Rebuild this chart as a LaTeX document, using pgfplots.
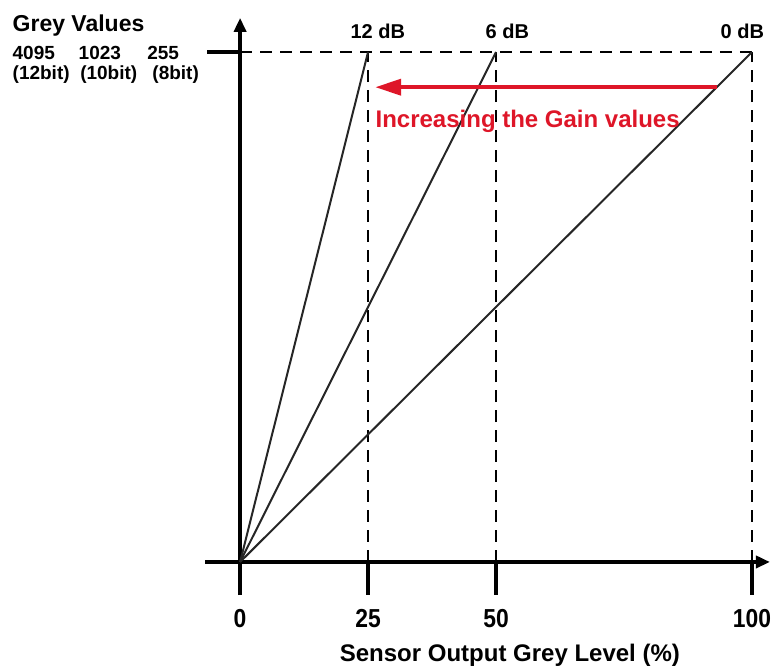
\documentclass[border=0pt]{standalone}
\usepackage{pgfplots}
\pgfplotsset{compat=1.18}
\usepackage{fontspec}
\setmainfont{Liberation Sans}
\newfontfamily\ticknarrow{Liberation Sans}[FakeStretch=0.88]
\usetikzlibrary{arrows.meta}
\definecolor{gainred}{RGB}{222,22,40}
\begin{document}
\begin{tikzpicture}
\begin{axis}[
    scale only axis,
    width=282.4pt, height=288.7pt,
    axis lines=middle,
    xmin=-6.8, xmax=103.5,
    ymin=-6.5, ymax=106.7,
    axis line style={line width=1.8pt, -{Triangle[length=7pt,width=6pt]}},
    xtick={0,25,50,100},
    ytick={100},
    yticklabels={},
    hide obscured x ticks=false,
    xtick align=outside, ytick align=outside,
    major tick length=16.5pt,
    tick style={line width=1.8pt, black},
    /pgf/number format/assume math mode=true,
    xticklabel style={font=\ticknarrow\bfseries\fontsize{13}{13}\selectfont, inner sep=2pt, yshift=-5pt},
    clip=false,
]
% dashed guides
\addplot[black, line width=1pt, dash pattern=on 6pt off 4pt] coordinates {(0,100) (100,100)};
\addplot[black, line width=1pt, dash pattern=on 6pt off 4pt] coordinates {(25,0) (25,100)};
\addplot[black, line width=1pt, dash pattern=on 6pt off 4pt] coordinates {(50,0) (50,100)};
\addplot[black, line width=1pt, dash pattern=on 6pt off 4pt] coordinates {(100,0) (100,100)};
% gain curves
\addplot[black!85, line width=1pt] coordinates {(0,0) (25,100)};
\addplot[black!85, line width=1pt] coordinates {(0,0) (50,100)};
\addplot[black!85, line width=1pt] coordinates {(0,0) (100,100)};
% gain arrow
\draw[gainred, line width=2pt, -{Triangle[length=13pt,width=8pt]}] (axis cs:93.2,93.1) -- (axis cs:26.4,93.1);
\node[gainred, font=\bfseries\fontsize{12}{12}\selectfont, anchor=base west, inner sep=0pt] at (axis cs:26.4,85.1) {Increasing the Gain values};
% dB labels
\node[font=\bfseries\fontsize{10}{10}\selectfont, anchor=base, inner sep=0pt] at (axis cs:26.9,102.7) {12 dB};
\node[font=\bfseries\fontsize{10}{10}\selectfont, anchor=base, inner sep=0pt] at (axis cs:52.2,102.7) {6 dB};
\node[font=\bfseries\fontsize{10}{10}\selectfont, anchor=base, inner sep=0pt] at (axis cs:98.1,102.7) {0 dB};
% y description
\node[font=\bfseries\fontsize{11.5}{11.5}\selectfont, anchor=base west, inner sep=0pt] at (axis cs:-44.5,104.1) {Grey Values};
\node[font=\bfseries\fontsize{9.5}{9.5}\selectfont, anchor=base west, inner sep=0pt] at (axis cs:-44.5,98.6) {4095};
\node[font=\bfseries\fontsize{9.5}{9.5}\selectfont, anchor=base west, inner sep=0pt] at (axis cs:-31.6,98.6) {1023};
\node[font=\bfseries\fontsize{9.5}{9.5}\selectfont, anchor=base west, inner sep=0pt] at (axis cs:-18.2,98.6) {255};
\node[font=\bfseries\fontsize{9.5}{9.5}\selectfont, anchor=base west, inner sep=0pt] at (axis cs:-44.5,94.6) {(12bit)};
\node[font=\bfseries\fontsize{9.5}{9.5}\selectfont, anchor=base west, inner sep=0pt] at (axis cs:-31.3,94.6) {(10bit)};
\node[font=\bfseries\fontsize{9.5}{9.5}\selectfont, anchor=base west, inner sep=0pt] at (axis cs:-17.2,94.6) {(8bit)};
% x description
\node[font=\bfseries\fontsize{12}{12}\selectfont, anchor=base, inner sep=0pt] at (axis cs:52.7,-19.6) {Sensor Output Grey Level (\%)};
\coordinate (bl) at (axis cs:-46.9,-21.0);
\coordinate (tr) at (axis cs:103.9,110.2);
\end{axis}
\pgfresetboundingbox
\path[use as bounding box] (bl) rectangle (tr);
\end{tikzpicture}
\end{document}
